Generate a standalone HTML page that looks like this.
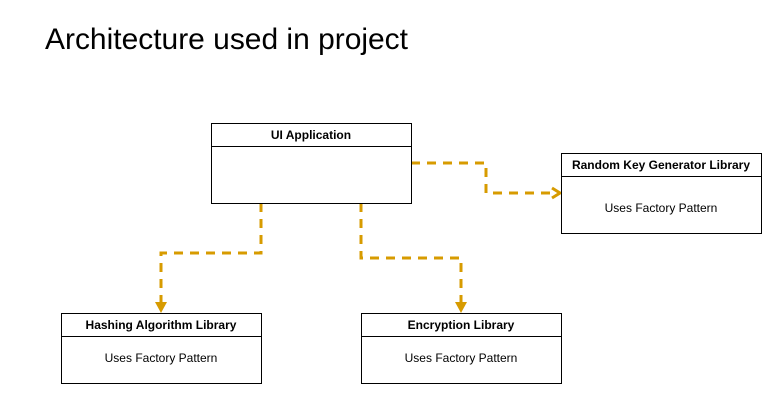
<!DOCTYPE html>
<html><head><style>
body{margin:0;background:#fff;width:782px;height:404px;overflow:hidden;font-family:"Liberation Sans",sans-serif}
</style></head><body>
<svg width="782" height="404" xmlns="http://www.w3.org/2000/svg" font-family="Liberation Sans, sans-serif">
<text x="45" y="49" font-size="29.5" fill="#000" textLength="363" lengthAdjust="spacingAndGlyphs">Architecture used in project</text>
<g fill="none" stroke="#d79b00" stroke-width="3" stroke-dasharray="9,7">
<path d="M411 163 H486 V193 H553"/>
<path d="M261 203 V253 H161 V303"/>
<path d="M361 203 V258 H461 V303"/>
</g>
<path d="M552 188 L560 193 L552 198" fill="none" stroke="#d79b00" stroke-width="3"/>
<path d="M155 302 L167 302 L161 313 Z" fill="#d79b00"/>
<path d="M455 302 L467 302 L461 313 Z" fill="#d79b00"/>
<g fill="#fff" stroke="#000" stroke-width="1">
<rect x="211.5" y="123.5" width="200" height="80"/><line x1="211.5" y1="146.5" x2="411.5" y2="146.5"/>
<rect x="561.5" y="153.5" width="200" height="80"/><line x1="561.5" y1="176.5" x2="761.5" y2="176.5"/>
<rect x="61.5" y="313.5" width="200" height="70"/><line x1="61.5" y1="336.5" x2="261.5" y2="336.5"/>
<rect x="361.5" y="313.5" width="200" height="70"/><line x1="361.5" y1="336.5" x2="561.5" y2="336.5"/>
</g>
<g font-size="12" text-anchor="middle" fill="#000">
<text x="311" y="139" font-weight="bold">UI Application</text>
<text x="661" y="169" font-weight="bold">Random Key Generator Library</text>
<text x="661" y="212">Uses Factory Pattern</text>
<text x="161" y="329" font-weight="bold">Hashing Algorithm Library</text>
<text x="161" y="362">Uses Factory Pattern</text>
<text x="461" y="329" font-weight="bold">Encryption Library</text>
<text x="461" y="362">Uses Factory Pattern</text>
</g>
</svg>
</body></html>
